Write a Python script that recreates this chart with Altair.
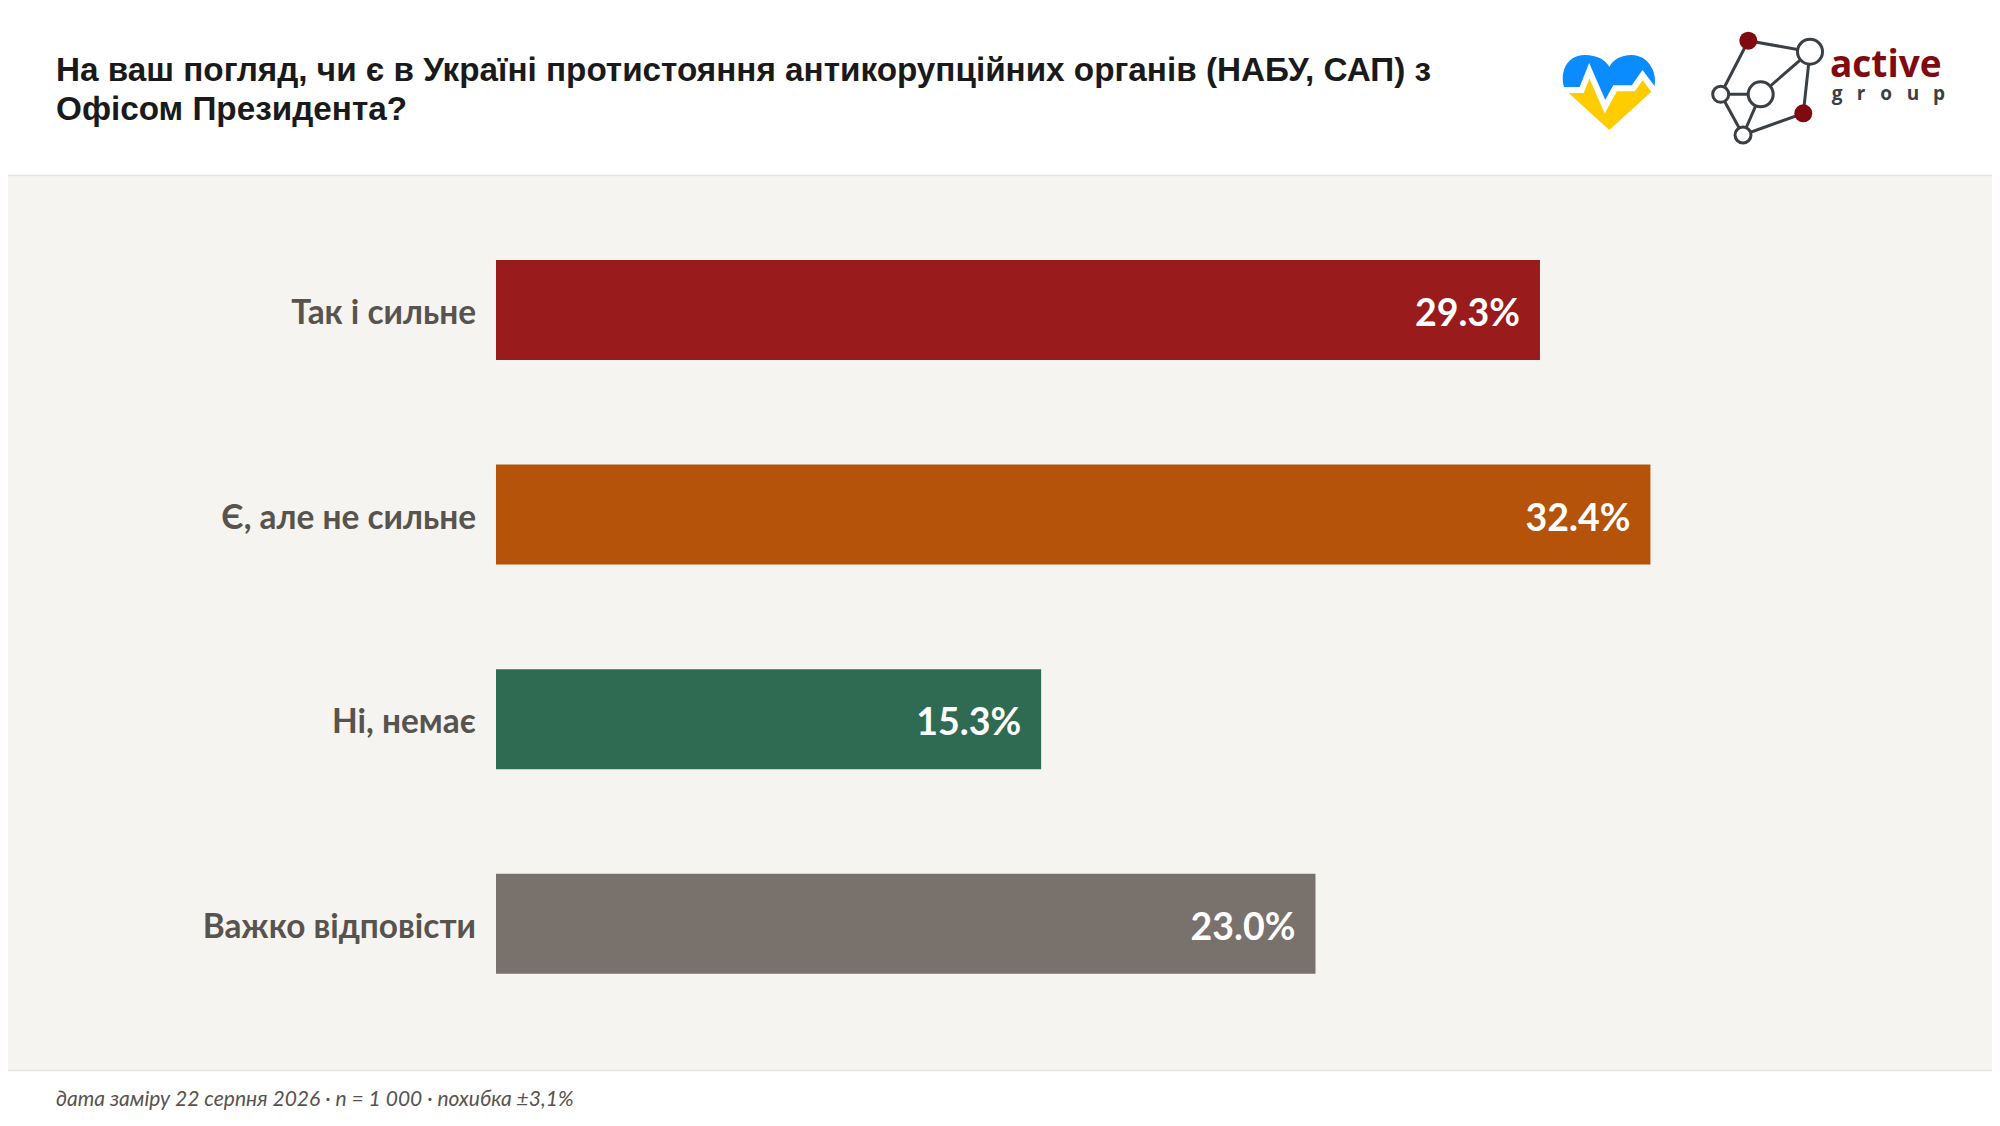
import altair as alt
import pandas as pd

categories = ["Так і сильне", "Є, але не сильне", "Ні, немає", "Важко відповісти"]
values = [29.3, 32.4, 15.3, 23.0]
bar_colors = ["#991B1B", "#B45309", "#2F6B52", "#78716C"]
title_lines = [
    "На ваш погляд, чи є в Україні протистояння антикорупційних органів (НАБУ, САП) з",
    "Офісом Президента?",
]
footer = "дата заміру 22 серпня 2026 · n = 1 000 · похибка ±3,1%"

W, H = 1984, 1110
OX, OY = 8, 8  # page margin


def px(x):
    return alt.value(x - OX)


def py(y):
    return alt.value(y - OY)


df = pd.DataFrame({
    "cat": categories,
    "val": values,
    "label": [f"{v:.1f}%" for v in values],
})

x_scale = alt.Scale(domain=[0, 40], range=[496 - OX, 496 - OX + 35.63 * 40], nice=False, zero=True)
y_scale = alt.Scale(domain=categories, range=[252, 252 + 100 + 3 * 204.6], paddingInner=1 - 100 / 204.6, paddingOuter=0)
X = alt.X("val:Q", scale=x_scale, axis=None)
Y = alt.Y("cat:N", scale=y_scale, axis=None, sort=categories)

layers = []

# panels
layers.append(alt.Chart().mark_rect(color="#F6F4F0").encode(
    x=alt.value(0), x2=alt.value(W), y=py(175), y2=py(1070)))
for yy in (175.5, 1070.5):
    layers.append(alt.Chart().mark_rule(color="#E7E5E4", strokeWidth=1.5).encode(
        x=alt.value(0), x2=alt.value(W), y=py(yy)))

# bars and labels
base = alt.Chart(df)
layers.append(base.mark_bar().encode(
    x=X, y=Y,
    color=alt.Color("cat:N", scale=alt.Scale(domain=categories, range=bar_colors), legend=None),
))
layers.append(base.mark_text(align="right", baseline="middle", dx=-20, dy=5, font="Lato", fontWeight="bold",
                             fontSize=37.5, color="white").encode(x=X, y=Y, text="label:N"))
layers.append(base.mark_text(align="right", baseline="middle", dy=4, font="Lato", fontWeight="bold",
                             fontSize=33.4, color="#57534E").encode(x=px(476), y=Y, text="cat:N"))

# title and footer
for line, yy in zip(title_lines, (81, 119.5)):
    layers.append(alt.Chart().mark_text(align="left", baseline="alphabetic", font="Liberation Sans",
                                        fontWeight="bold", fontSize=33.27, color="#1A1A1A").encode(
        x=px(56), y=py(yy), text=alt.value(line)))
layers.append(alt.Chart().mark_text(align="left", baseline="alphabetic", font="Lato", fontStyle="italic",
                                    fontSize=21, color="#57534E").encode(
    x=px(56), y=py(1106), text=alt.value(footer)))

# heart logo
heart_blue = ("M -44 0 C -50 -12 -46 -35 -24.3 -35 C -12 -35 -4 -30 0 -23.3 C 4 -30 11 -35 22.3 -35 "
              "C 40 -35 50 -15 44 0 L 33.3 -15 L 24 -1.7 L 5.7 -1.7 L -4.3 16.7 L -20 -19.3 L -27.7 0 Z")
heart_yellow = "M -44 0 L -27.7 0 L -20 -19.3 L -4.3 16.7 L 5.7 -1.7 L 24 -1.7 L 33.3 -15 L 44 0 L 0 40 Z"
heart_line = "M -46 0 L -27.7 0 L -20 -19.3 L -4.3 16.7 L 5.7 -1.7 L 24 -1.7 L 33.3 -15 L 46 2"
for shape, kw in (
    (heart_blue, dict(filled=True, fill="#0A8CFF", strokeWidth=0)),
    (heart_yellow, dict(filled=True, fill="#FFCC00", strokeWidth=0)),
    (heart_line, dict(filled=False, stroke="white", strokeWidth=6)),
):
    layers.append(alt.Chart().mark_point(shape=shape, size=4, opacity=1, **kw).encode(x=px(1609.3), y=py(90)))

# network logo
nodes = [
    (1748.3, 40.7, 18, True),
    (1810, 51.7, 25, False),
    (1720.7, 94.3, 16, False),
    (1760.7, 94.3, 25, False),
    (1803.3, 113.3, 18, True),
    (1743, 135, 16, False),
]
edges = [(0, 1), (0, 2), (1, 3), (1, 4), (2, 3), (2, 5), (3, 5), (5, 4)]
for a, b in edges:
    layers.append(alt.Chart().mark_rule(color="#3A3F44", strokeWidth=3).encode(
        x=px(nodes[a][0]), x2=px(nodes[b][0]), y=py(nodes[a][1]), y2=py(nodes[b][1])))
for nx, ny, d, red in nodes:
    if red:
        m = alt.Chart().mark_point(filled=True, fill="#7F0A10", strokeWidth=0, size=d * d, opacity=1)
    else:
        m = alt.Chart().mark_point(filled=True, fill="white", stroke="#3A3F44", strokeWidth=3, size=d * d, opacity=1)
    layers.append(m.encode(x=px(nx), y=py(ny)))

layers.append(alt.Chart().mark_text(align="left", baseline="alphabetic", font="Open Sans", fontWeight="bold",
                                    fontSize=37, color="#7F0A10").encode(
    x=px(1830), y=py(77), text=alt.value("active")))
for ch, lx in zip("group", (1837, 1861, 1886, 1913, 1939)):
    layers.append(alt.Chart().mark_text(align="center", baseline="alphabetic", font="Open Sans", fontWeight="bold",
                                        fontSize=19, color="#3A3F44").encode(
        x=px(lx), y=py(100), text=alt.value(ch)))

chart = alt.layer(*layers).properties(
    width=W, height=H, padding=0, background="white",
    autosize=alt.AutoSizeParams(type="none"),
).configure_view(strokeWidth=0)

chart.save("out.html", embed_options={"renderer": "svg", "actions": False})
